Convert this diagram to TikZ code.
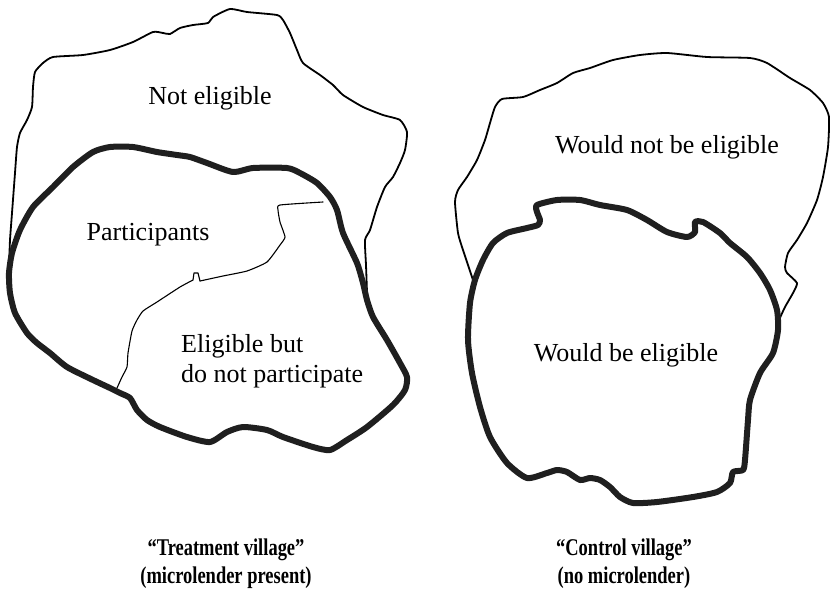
\documentclass[tikz,border=0pt]{standalone}
\usepackage{fontspec}
\setmainfont{Liberation Serif}
\newfontfamily\capfont[FakeStretch=0.77]{Liberation Serif}
\usepackage{tikz}
\usetikzlibrary{positioning}

\begin{document}
\begin{tikzpicture}[
  x=1pt, y=-1pt,
  thinline/.style={draw=black, line width=1.8pt, line join=round, line cap=round},
  thickline/.style={draw=black!88, line width=6pt, line join=round},
  divline/.style={draw=black, line width=1.1pt, line join=round, line cap=round},
  lbl/.style={font=\fontsize{26}{30}\selectfont, inner sep=0pt},
  caplbl/.style={font=\capfont\bfseries\fontsize{24}{28}\selectfont, align=center, inner sep=0pt}
]
  \useasboundingbox (0,0) rectangle (830,592);

  % treatment village: whole population (thin)
  \draw[thinline] plot[smooth, tension=0.35] coordinates {
    (9,267) (10,240) (12,213) (15,173) (17,147) (20,133) (27,120) (32,107) (33,87)
    (35,72) (43,63) (53,57) (83,55) (110,50) (133,42) (153,32) (163,33) (170,34)
    (180,28) (193,25) (208,23) (213,17) (230,9) (247,12) (277,15) (283,20) (290,33)
    (297,50) (303,63) (320,75) (333,85) (343,95) (363,107) (383,115) (400,120)
    (407,132) (405,150) (400,163) (393,177) (385,187) (377,207) (370,230) (365,240)
    (366,265) (367,292)};

  % treatment village: eligible (thick)
  \draw[thickline] plot[smooth cycle, tension=0.4] coordinates {
    (110,147) (133,147) (157,152) (177,155) (190,157) (207,163) (233,172) (253,168)
    (287,168) (300,173) (317,183) (330,197) (337,210) (343,233) (357,263) (363,283)
    (367,300) (373,317) (387,340) (400,363) (407,377) (405,390) (393,405) (367,427)
    (347,440) (330,450) (313,447) (283,437) (267,430) (243,427) (227,432) (210,442)
    (187,437) (160,427) (147,420) (137,410) (130,398) (120,393) (110,388) (93,380)
    (67,367) (50,353) (37,343) (27,333) (15,313) (10,293) (9,273) (12,253) (20,230)
    (33,207) (53,187) (73,167) (93,152)};

  % participants / non-participants split
  \draw[divline] plot[smooth, tension=0.3] coordinates {
    (323,202) (280,205) (278,210) (280,222) (285,237) (280,245) (267,262) (247,271)
    (223,276) (200,281)};
  \draw[divline] (200,281) -- (198,273) -- (194,273) -- (193,280);
  \draw[divline] plot[smooth, tension=0.3] coordinates {
    (193,280) (180,287) (157,302) (143,311) (137,320) (132,331) (128,353) (127,367)
    (122,377) (117,388)};

  % control village: whole population (thin)
  \draw[thinline] plot[smooth, tension=0.35] coordinates {
    (474,283) (463,250) (458,233) (455,202) (458,190) (467,177) (477,160) (485,140)
    (490,123) (495,107) (502,99) (523,97) (540,90) (557,83) (573,73) (590,68)
    (613,60) (640,55) (667,53) (707,57) (750,58) (767,63) (790,78) (810,90)
    (823,103) (829,117) (828,147) (823,177) (817,200) (807,223) (797,240) (788,253)
    (785,267) (787,273) (797,283) (793,293) (785,307) (779,320)};

  % control village: would be eligible (thick)
  \draw[thickline] plot[smooth cycle, tension=0.4] coordinates {
    (537,205) (557,200) (580,200) (600,205) (627,210) (647,220) (667,232) (687,237)
    (695,232) (695,222) (703,222) (720,233) (730,243) (747,257) (760,273) (770,290)
    (777,310) (778,330) (773,353) (760,373) (750,400) (748,420) (745,460) (743,470)
    (733,472) (730,483) (717,492) (693,497) (657,502) (633,503) (620,497) (610,487)
    (600,480) (590,478) (580,480) (567,472) (557,470) (547,473) (527,478) (507,463)
    (490,437) (480,407) (472,373) (468,340) (470,303) (475,280) (483,260) (493,243)
    (507,233) (527,228) (538,225) (540,220) (537,212)};

  % labels
  \node[lbl] (noteligible) at (210,98) {Not eligible};
  \node[lbl] (participants) at (148,235) {Participants};
  \node[lbl, align=left, anchor=west] (nonpart) at (181,361) {Eligible but\\do not participate};
  \node[lbl] (wouldnot) at (667,147) {Would not be eligible};
  \node[lbl] (wouldbe) at (626,355) {Would be eligible};

  \node[caplbl] (treatcap) at (226,564) {“Treatment village”\\(microlender present)};
  \node[caplbl] (ctrlcap) at (624,564) {“Control village”\\(no microlender)};
\end{tikzpicture}
\end{document}
